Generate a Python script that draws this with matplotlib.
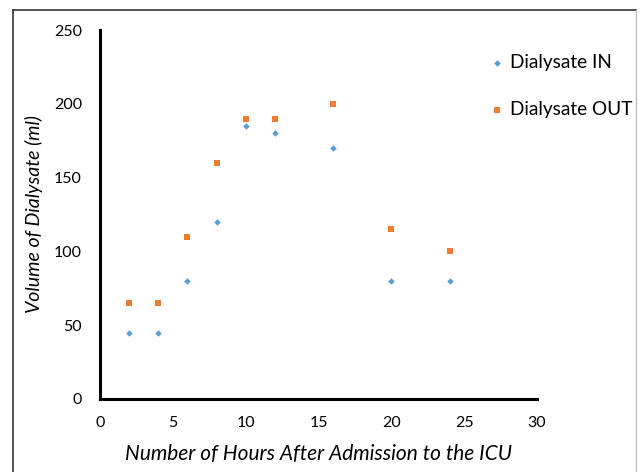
import matplotlib
matplotlib.use("Agg")
import matplotlib.pyplot as plt
from matplotlib.lines import Line2D

hours = [2, 4, 6, 8, 10, 12, 16, 20, 24]
dialysate_in = [45, 45, 80, 120, 185, 180, 170, 80, 80]
dialysate_out = [65, 65, 110, 160, 190, 190, 200, 115, 100]
x_ticks = [0, 5, 10, 15, 20, 25, 30]
y_ticks = [0, 50, 100, 150, 200, 250]

plt.rcParams['font.family'] = ['Lato', 'DejaVu Sans']

W, H = 641, 472
fig = plt.figure(figsize=(W/100, H/100), dpi=100)
ax = fig.add_axes([100/W, 1-399/H, (537-100)/W, (399-30)/H])

ax.scatter(hours, dialysate_in, marker='D', s=11, color='#5B9BD5', label='Dialysate IN', zorder=3, linewidths=0)
ax.scatter(hours, dialysate_out, marker='s', s=25, color='#ED7D31', label='Dialysate OUT', zorder=3, linewidths=0)

ax.set_xlim(0, 30)
ax.set_ylim(0, 250)
ax.set_xticks(x_ticks)
ax.set_yticks(y_ticks)
ax.tick_params(length=0, labelsize=11.5, pad=12, colors='#000000')
ax.tick_params(axis='y', pad=13)
for s in ['top', 'right']:
    ax.spines[s].set_visible(False)
for s in ['left', 'bottom']:
    ax.spines[s].set_linewidth(2.2)
    ax.spines[s].set_color('black')

ax.set_xlabel('Number of Hours After Admission to the ICU', fontsize=15, style='italic', labelpad=10)
ax.set_ylabel('Volume of Dialysate (ml)', fontsize=14, style='italic')
ax.yaxis.set_label_coords((43 - 100) / 437, 0.5)

leg = ax.legend(loc='upper left', bbox_to_anchor=(479/W, 1-44/H), bbox_transform=fig.transFigure,
                frameon=False, fontsize=13.7, handletextpad=0.25, labelspacing=1.6, markerscale=1.0,
                handlelength=0.9, borderpad=0)

# outer border
fig.add_artist(Line2D([12.5/W, 12.5/W], [0, 1-10/H], transform=fig.transFigure, color='#333333', lw=1.2))
fig.add_artist(Line2D([12.5/W, 636/W], [1-10/H, 1-10/H], transform=fig.transFigure, color='#333333', lw=1.2))
fig.add_artist(Line2D([636/W, 636/W], [0, 1-10/H], transform=fig.transFigure, color='#c0c0c0', lw=1.0))

fig.savefig('out.png', dpi=100)
